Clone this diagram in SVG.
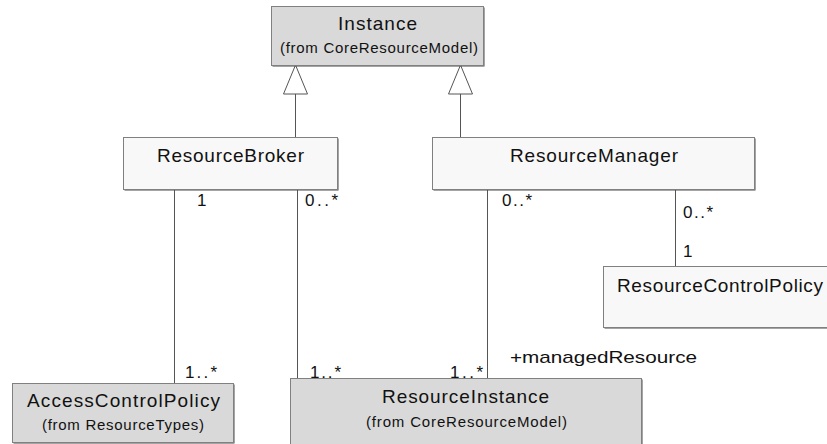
<svg xmlns="http://www.w3.org/2000/svg" width="827" height="444" viewBox="0 0 827 444">
<style>
.sh{fill:#4a4a4a}
.g{fill:#d9d9d9;stroke:#808080;stroke-width:1}
.w{fill:#f8f8f8;stroke:#808080;stroke-width:1}
.t{font-family:"Liberation Sans",Arial,sans-serif;font-size:19px;fill:#111;text-anchor:middle}
.s{font-family:"Liberation Sans",Arial,sans-serif;font-size:15px;fill:#111;text-anchor:middle}
.l{font-family:"Liberation Sans",Arial,sans-serif;font-size:17px;fill:#111}
.c{stroke:#555;stroke-width:1;fill:none}
.tri{fill:#fff;stroke:#555;stroke-width:1}
</style>
<rect width="827" height="444" fill="#fff"/>
<g id="connectors">
<line class="c" x1="295.5" y1="94" x2="295.5" y2="137"/>
<polygon class="tri" points="295.5,65 283.5,94 307.5,94"/>
<line class="c" x1="460.5" y1="94" x2="460.5" y2="137"/>
<polygon class="tri" points="460.5,65 448.5,94 472.5,94"/>
<line class="c" x1="174.5" y1="189" x2="174.5" y2="383"/>
<line class="c" x1="297.5" y1="189" x2="297.5" y2="378"/>
<line class="c" x1="487.5" y1="189" x2="487.5" y2="378"/>
<line class="c" x1="675.5" y1="189" x2="675.5" y2="266"/>
<text class="l" x="197" y="206">1</text>
<text class="l" x="305" y="206" textLength="33" lengthAdjust="spacing">0..*</text>
<text class="l" x="502" y="206" textLength="30" lengthAdjust="spacing">0..*</text>
<text class="l" x="683" y="218" textLength="30" lengthAdjust="spacing">0..*</text>
<text class="l" x="683" y="257">1</text>
<text class="l" x="185" y="378" textLength="32" lengthAdjust="spacing">1..*</text>
<text class="l" x="310" y="378" textLength="31" lengthAdjust="spacing">1..*</text>
<text class="l" x="450" y="378" textLength="33" lengthAdjust="spacing">1..*</text>
<text class="l" x="510" y="363" textLength="187" lengthAdjust="spacingAndGlyphs">+managedResource</text>
</g>
<g id="Instance">
<rect class="sh" x="272.5" y="7.5" width="212" height="59"/>
<rect class="g" x="271.5" y="6.5" width="212" height="59"/>
<text class="t" x="377.5" y="30" textLength="79" lengthAdjust="spacing">Instance</text>
<text class="s" x="379" y="53" textLength="198" lengthAdjust="spacing">(from CoreResourceModel)</text>
</g>
<g id="ResourceBroker">
<rect class="sh" x="124.5" y="138.5" width="214" height="52"/>
<rect class="w" x="123.5" y="137.5" width="214" height="52"/>
<text class="t" x="230.5" y="162" textLength="147" lengthAdjust="spacing">ResourceBroker</text>
</g>
<g id="ResourceManager">
<rect class="sh" x="433.5" y="138.5" width="322" height="52"/>
<rect class="w" x="432.5" y="137.5" width="322" height="52"/>
<text class="t" x="594" y="162" textLength="168" lengthAdjust="spacing">ResourceManager</text>
</g>
<g id="ResourceControlPolicy">
<rect class="sh" x="604.5" y="267.5" width="234" height="61"/>
<rect class="w" x="603.5" y="266.5" width="234" height="61"/>
<text class="t" x="720" y="292" textLength="206" lengthAdjust="spacing">ResourceControlPolicy</text>
</g>
<g id="AccessControlPolicy">
<rect class="sh" x="13.5" y="384.5" width="221" height="59"/>
<rect class="g" x="12.5" y="383.5" width="221" height="59"/>
<text class="t" x="123.5" y="407" textLength="193" lengthAdjust="spacing">AccessControlPolicy</text>
<text class="s" x="123" y="430" textLength="162" lengthAdjust="spacing">(from ResourceTypes)</text>
</g>
<g id="ResourceInstance">
<rect class="sh" x="291.5" y="379.5" width="351" height="70"/>
<rect class="g" x="290.5" y="378.5" width="351" height="70"/>
<text class="t" x="465.5" y="403" textLength="167" lengthAdjust="spacing">ResourceInstance</text>
<text class="s" x="466.5" y="427" textLength="201" lengthAdjust="spacing">(from CoreResourceModel)</text>
</g>
</svg>
